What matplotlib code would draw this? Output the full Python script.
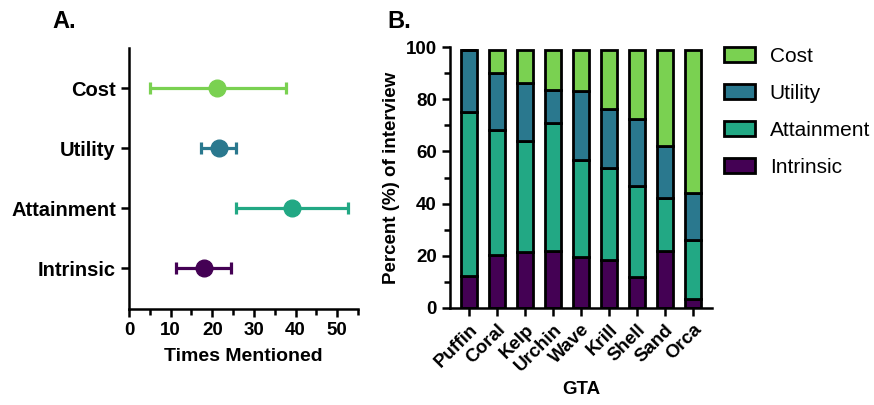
import numpy as np
import matplotlib
matplotlib.use("Agg")
import matplotlib.pyplot as plt
from matplotlib.ticker import MultipleLocator

plt.rcParams['font.family'] = ['Liberation Sans', 'DejaVu Sans']

# panel A: times mentioned (mean, low, high)
values = ['Intrinsic', 'Attainment', 'Utility', 'Cost']
mean = [18.0, 39.1, 21.5, 21.2]
low = [11.4, 25.7, 17.2, 5.0]
high = [24.4, 52.6, 25.6, 37.7]

# panel B: percent of interview per GTA
gta = ['Puffin', 'Coral', 'Kelp', 'Urchin', 'Wave', 'Krill', 'Shell', 'Sand', 'Orca']
intrinsic = [12.1, 20.4, 21.3, 21.7, 19.7, 18.2, 11.8, 22.0, 3.4]
attainment = [63.1, 47.8, 42.7, 49.0, 37.0, 35.6, 35.0, 20.2, 22.5]
utility = [23.8, 21.8, 22.2, 12.7, 26.3, 22.6, 25.8, 19.8, 18.3]
cost = [0.0, 9.0, 12.8, 15.6, 16.0, 22.6, 26.4, 37.0, 54.8]

colors = {'Intrinsic': '#440154', 'Attainment': '#22a884',
          'Utility': '#2a788e', 'Cost': '#7ad151'}

fig = plt.figure(figsize=(8.74, 4.05), dpi=100)

# ---- panel A
axA = fig.add_axes([129 / 874, 1 - 309 / 405, (358 - 129) / 874, (309 - 48) / 405])
for i, v in enumerate(values):
    c = colors[v]
    axA.errorbar(mean[i], i, xerr=[[mean[i] - low[i]], [high[i] - mean[i]]],
                 fmt='o', color=c, ms=12, elinewidth=2.3, capsize=4, capthick=2.3)
axA.set_yticks(range(len(values)))
axA.set_yticklabels(values, fontsize=14.5, fontweight='bold')
axA.set_ylim(-0.68, 3.67)
axA.set_xlim(0, 55)
axA.xaxis.set_major_locator(MultipleLocator(10))
axA.xaxis.set_minor_locator(MultipleLocator(5))
axA.set_xlabel('Times Mentioned', fontsize=14, fontweight='bold', labelpad=6)
for t in axA.get_xticklabels():
    t.set_fontsize(13.5)
    t.set_fontweight('bold')
axA.spines['top'].set_visible(False)
axA.spines['right'].set_visible(False)
for s in ['left', 'bottom']:
    axA.spines[s].set_linewidth(1.8)
axA.tick_params(which='major', width=1.8, length=6)
axA.tick_params(which='minor', width=1.8, length=4)
fig.text(52 / 874, 1 - 21 / 405, 'A.', fontsize=17, fontweight='bold', va='center')

# ---- panel B
axB = fig.add_axes([450 / 874, 1 - 308 / 405, (712 - 450) / 874, (308 - 47) / 405])
x = np.arange(len(gta))
bottom = np.zeros(len(gta))
for name, vals in [('Intrinsic', intrinsic), ('Attainment', attainment),
                   ('Utility', utility), ('Cost', cost)]:
    axB.bar(x, vals, bottom=bottom, width=0.6, color=colors[name],
            edgecolor='black', linewidth=2, label=name)
    bottom = bottom + np.array(vals)
axB.set_xlim(-0.68, 8.68)
axB.set_ylim(0, 100)
axB.yaxis.set_major_locator(MultipleLocator(20))
axB.yaxis.set_minor_locator(MultipleLocator(10))
axB.set_xticks(x)
axB.set_xticklabels(gta, rotation=45, ha='right', rotation_mode='anchor',
                    fontsize=13.5, fontweight='bold')
for t in axB.get_yticklabels():
    t.set_fontsize(13.5)
    t.set_fontweight('bold')
axB.set_ylabel('Percent (%) of interview', fontsize=13.5, fontweight='bold')
axB.set_xlabel('GTA', fontsize=13.5, fontweight='bold')
axB.spines['top'].set_visible(False)
axB.spines['right'].set_visible(False)
for s in ['left', 'bottom']:
    axB.spines[s].set_linewidth(1.8)
axB.tick_params(which='major', width=1.8, length=6)
axB.tick_params(which='minor', width=1.8, length=4)
h, l = axB.get_legend_handles_labels()
fig.legend(h[::-1], l[::-1], loc='upper left',
           bbox_to_anchor=(724 / 874, 1 - 47 / 405),
           borderaxespad=0, borderpad=0, frameon=False, fontsize=15,
           handlelength=1.5, handleheight=0.7, handletextpad=0.7,
           labelspacing=0.86)
fig.text(387 / 874, 1 - 21 / 405, 'B.', fontsize=17, fontweight='bold', va='center')

fig.savefig('out.png', dpi=100)
